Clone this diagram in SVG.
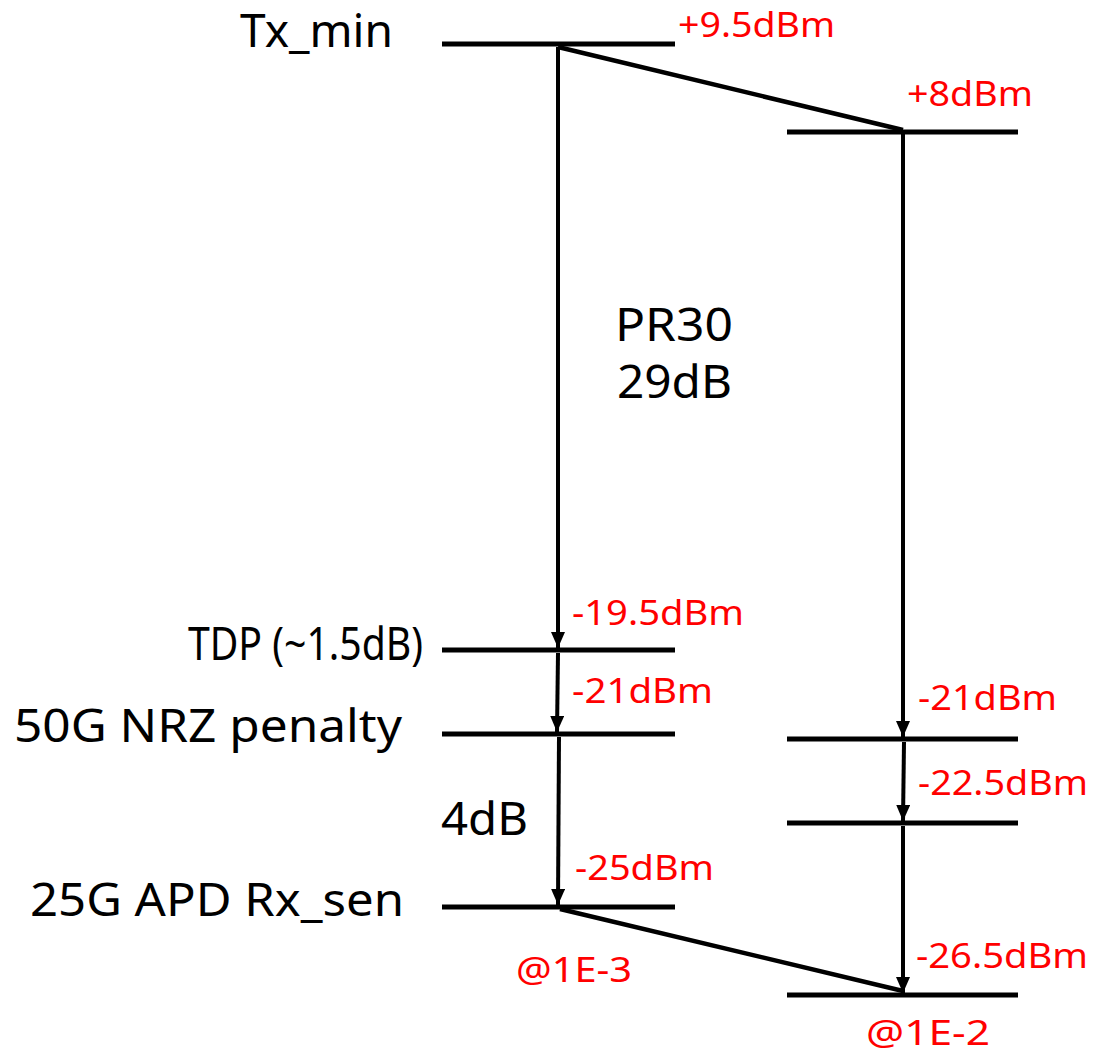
<svg xmlns="http://www.w3.org/2000/svg" width="1094" height="1054" viewBox="0 0 1094 1054">
<defs>
<marker id="ah" viewBox="0 0 10 10" refX="10" refY="5" markerWidth="4" markerHeight="3.5" markerUnits="strokeWidth" orient="auto" preserveAspectRatio="none">
<path d="M0,0 L10,5 L0,10 z" fill="#000"/>
</marker>
<style>
.bar{stroke:#000;stroke-width:5;fill:none}
.ln{stroke:#000;stroke-width:4.5;fill:none}
.arr{stroke:#000;stroke-width:4;fill:none;marker-end:url(#ah)}
.blk{font-family:"Noto Sans","Open Sans",sans-serif;fill:#000;font-size:46px}
.red{font-family:"Noto Sans","Open Sans",sans-serif;fill:#ff0000;font-size:35px}
</style>
</defs>
<rect width="1094" height="1054" fill="#fff"/>
<g id="levels">
<g id="tx-left"><line class="bar" x1="442" y1="44" x2="675" y2="44"/></g>
<g id="tdp-left"><line class="bar" x1="442" y1="650" x2="675" y2="650"/></g>
<g id="nrz-left"><line class="bar" x1="442" y1="734" x2="675" y2="734"/></g>
<g id="apd-left"><line class="bar" x1="442" y1="907" x2="675" y2="907"/></g>
<g id="tx-right"><line class="bar" x1="787" y1="132" x2="1018" y2="132"/></g>
<g id="l21-right"><line class="bar" x1="787" y1="739" x2="1018" y2="739"/></g>
<g id="l225-right"><line class="bar" x1="787" y1="823" x2="1018" y2="823"/></g>
<g id="l265-right"><line class="bar" x1="787" y1="995" x2="1018" y2="995"/></g>
</g>
<g id="connectors">
<line class="ln" x1="558" y1="47" x2="903" y2="130"/>
<line class="arr" x1="558" y1="47" x2="558" y2="648"/>
<line class="arr" x1="558" y1="653" x2="557" y2="732"/>
<line class="arr" x1="559" y1="737" x2="558" y2="905"/>
<line class="arr" x1="903" y1="130" x2="903" y2="737"/>
<line class="arr" x1="904" y1="742" x2="903" y2="821"/>
<line class="ln" x1="560" y1="909" x2="903" y2="991"/>
<line class="arr" x1="903" y1="826" x2="903" y2="993"/>
</g>
<g id="labels">
<text class="blk" x="240" y="47" textLength="153" lengthAdjust="spacingAndGlyphs">Tx_min</text>
<text class="red" x="678" y="37" textLength="157" lengthAdjust="spacingAndGlyphs">+9.5dBm</text>
<text class="red" x="907" y="106" textLength="126" lengthAdjust="spacingAndGlyphs">+8dBm</text>
<text class="blk" x="615" y="341" font-size="41" textLength="118" lengthAdjust="spacingAndGlyphs">PR30</text>
<text class="blk" x="617" y="398" font-size="41" textLength="115" lengthAdjust="spacingAndGlyphs">29dB</text>
<text class="red" x="572" y="625" textLength="172" lengthAdjust="spacingAndGlyphs">-19.5dBm</text>
<text class="blk" x="188" y="660" font-size="28" textLength="235" lengthAdjust="spacingAndGlyphs">TDP (~1.5dB)</text>
<text class="red" x="572" y="703" textLength="141" lengthAdjust="spacingAndGlyphs">-21dBm</text>
<text class="blk" x="14" y="742" textLength="388" lengthAdjust="spacingAndGlyphs">50G NRZ penalty</text>
<text class="red" x="918" y="710" textLength="139" lengthAdjust="spacingAndGlyphs">-21dBm</text>
<text class="red" x="918" y="795" textLength="170" lengthAdjust="spacingAndGlyphs">-22.5dBm</text>
<text class="blk" x="441" y="835" textLength="87" lengthAdjust="spacingAndGlyphs">4dB</text>
<text class="red" x="575" y="880" textLength="139" lengthAdjust="spacingAndGlyphs">-25dBm</text>
<text class="blk" x="30" y="916" textLength="374" lengthAdjust="spacingAndGlyphs">25G APD Rx_sen</text>
<text class="red" x="516" y="982" font-size="32" textLength="116" lengthAdjust="spacingAndGlyphs">@1E-3</text>
<text class="red" x="916" y="968" textLength="172" lengthAdjust="spacingAndGlyphs">-26.5dBm</text>
<text class="red" x="866" y="1045" font-size="32" textLength="124" lengthAdjust="spacingAndGlyphs">@1E-2</text>
</g>
</svg>
